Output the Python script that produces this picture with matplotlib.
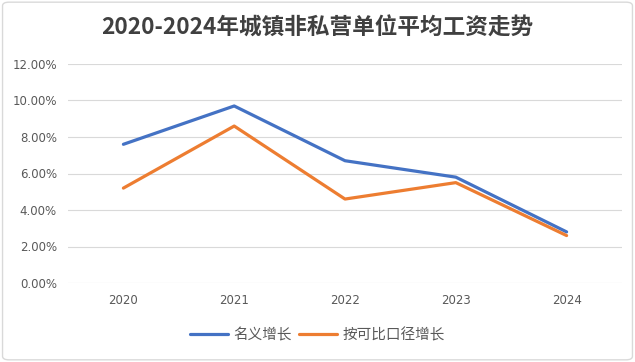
import matplotlib
matplotlib.use('Agg')
import matplotlib.pyplot as plt
from matplotlib.patches import FancyBboxPatch
from matplotlib.ticker import FuncFormatter

plt.rcParams['font.family'] = ['Noto Sans CJK SC', 'DejaVu Sans']

years = ['2020', '2021', '2022', '2023', '2024']
nominal = [0.076, 0.097, 0.067, 0.058, 0.028]
real = [0.052, 0.086, 0.046, 0.055, 0.026]
yticks = [0, 0.02, 0.04, 0.06, 0.08, 0.10, 0.12]

fig = plt.figure(figsize=(6.35, 3.62), dpi=100)
ax = fig.add_axes([68 / 635, 1 - 283 / 362, (622 - 68) / 635, (283 - 64) / 362])

x = range(len(years))
ax.plot(x, nominal, color='#4472C4', lw=2.3, label='名义增长', solid_capstyle='round')
ax.plot(x, real, color='#ED7D31', lw=2.3, label='按可比口径增长', solid_capstyle='round')

ax.set_xlim(-0.5, len(years) - 0.5)
ax.set_ylim(0, 0.12)
ax.set_yticks(yticks)
ax.yaxis.set_major_formatter(FuncFormatter(lambda v, p: f'{v * 100:.2f}%'))
ax.set_xticks(list(x))
ax.set_xticklabels(years)
ax.tick_params(length=0, labelsize=8.5, labelcolor='#595959', pad=8)
ax.tick_params(axis='y', pad=8)
for lab in ax.get_xticklabels() + ax.get_yticklabels():
    lab.set_family('DejaVu Sans')
ax.grid(axis='y', color='#D9D9D9', lw=0.8)
ax.set_axisbelow(True)
for s in ax.spines.values():
    s.set_visible(False)

fig.text(0.5, 1 - 28 / 362, '2020-2024年城镇非私营单位平均工资走势', ha='center', va='center',
         fontsize=16.3, fontweight='bold', color='#404040')

fig.legend(loc='center', bbox_to_anchor=(0.5, 1 - 335 / 362), ncol=2, frameon=False,
           handlelength=2.6, columnspacing=0.5, handletextpad=0.4,
           prop={'size': 10.5}, labelcolor='#595959')

border = FancyBboxPatch((0.004, 0.006), 0.992, 0.988, boxstyle='round,pad=0,rounding_size=0.01',
                        transform=fig.transFigure, fill=False, edgecolor='#D9D9D9', lw=1)
fig.patches.append(border)

fig.savefig('out.png', dpi=100)
